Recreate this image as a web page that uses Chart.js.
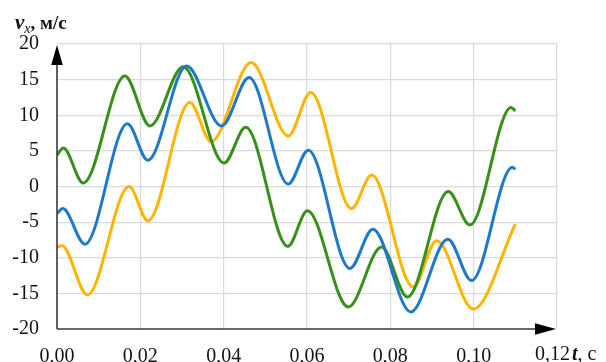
<!DOCTYPE html>
<html>
<head>
<meta charset="utf-8">
<script src="https://cdn.jsdelivr.net/npm/chart.js@4.4.1/dist/chart.umd.min.js"></script>
<style>
  html, body { margin: 0; padding: 0; background: #fff; }
  canvas { display: block; }
</style>
</head>
<body>
<canvas id="c" width="606" height="362"></canvas>
<script>
// Velocity v_x(t) for three signals, sampled at their turning points (t in s, v in m/s)
const tBlue   = [0, 0.0014, 0.0067, 0.0169, 0.0218, 0.0311, 0.0395, 0.0461, 0.0555, 0.0603, 0.0703, 0.0758, 0.0849, 0.0938, 0.0995, 0.1093, 0.1100];
const vBlue   = [-3.8, -3.1, -8.1, 8.8, 3.7, 16.9, 8.5, 15.3, 0.35, 5.1, -11.5, -6.0, -17.6, -7.4, -13.2, 2.7, 2.4];

const tGreen  = [0, 0.0015, 0.0063, 0.0163, 0.0223, 0.0303, 0.0401, 0.0453, 0.0554, 0.0601, 0.0699, 0.0779, 0.0841, 0.0939, 0.0991, 0.1090, 0.1100];
const vGreen  = [4.4, 5.4, 0.5, 15.5, 8.5, 16.8, 3.3, 8.3, -8.4, -3.4, -16.9, -8.5, -15.5, -0.7, -5.4, 11.1, 10.6];

const tOrange = [0, 0.0012, 0.0073, 0.0173, 0.0218, 0.0319, 0.0370, 0.0466, 0.0555, 0.0609, 0.0707, 0.0755, 0.0855, 0.0911, 0.0999, 0.1100];
const vOrange = [-8.5, -8.3, -15.2, 0.0, -4.8, 11.8, 6.3, 17.4, 7.1, 13.2, -3.1, 1.6, -14.1, -7.6, -17.2, -5.3];

// Axis ranges and tick steps
const xMin = 0, xMax = 0.12, xStep = 0.02;
const yMin = -20, yMax = 20, yStep = 5;

const SERIF = "'Liberation Serif', 'Times New Roman', serif";
const GRID = '#d9d9d9';

const fmtX = v => v.toFixed(2).replace('.', ',');

function points(ts, vs) {
  return ts.map((t, i) => ({ x: t, y: vs[i] }));
}

function series(ts, vs, color) {
  return {
    data: points(ts, vs),
    borderColor: color,
    borderWidth: 3,
    pointRadius: 0,
    fill: false,
    cubicInterpolationMode: 'monotone'
  };
}

// Axis lines with arrowheads plus the axis captions
const axesArrows = {
  id: 'axesArrows',
  afterDatasetsDraw(chart) {
    const { ctx, scales: { x, y } } = chart;
    const x0 = x.getPixelForValue(xMin);
    const xEnd = x.getPixelForValue(xMax);
    const y0 = y.getPixelForValue(yMin);
    const yTop = y.getPixelForValue(yMax);
    ctx.save();
    ctx.strokeStyle = '#3a3a3a';
    ctx.lineWidth = 1.6;
    ctx.beginPath();
    ctx.moveTo(x0, y0);
    ctx.lineTo(xEnd - 20, y0);
    ctx.moveTo(x0, y0);
    ctx.lineTo(x0, yTop + 20);
    ctx.stroke();

    ctx.fillStyle = '#000';
    ctx.beginPath();
    ctx.moveTo(x0, yTop + 1);
    ctx.lineTo(x0 - 5.8, yTop + 21);
    ctx.lineTo(x0 + 5.8, yTop + 21);
    ctx.closePath();
    ctx.fill();

    ctx.beginPath();
    ctx.moveTo(xEnd - 1, y0);
    ctx.lineTo(xEnd - 22, y0 - 5.7);
    ctx.lineTo(xEnd - 22, y0 + 5.7);
    ctx.closePath();
    ctx.fill();

    // y caption: v_x, м/с
    ctx.fillStyle = '#111';
    ctx.textBaseline = 'alphabetic';
    ctx.textAlign = 'left';
    let cx = 15, base = 29;
    ctx.font = 'italic bold 21px ' + SERIF;
    ctx.fillText('v', cx, base);
    cx += ctx.measureText('v').width;
    ctx.font = 'italic 14px ' + SERIF;
    ctx.fillText('x', cx, base + 4);
    cx += ctx.measureText('x').width;
    ctx.font = 'bold 19px ' + SERIF;
    ctx.fillText(', м/с', cx, base);

    // last x tick value followed by the caption: 0,12 t, с
    base = 360;
    ctx.font = '20px ' + SERIF;
    ctx.textAlign = 'right';
    ctx.fillText(fmtX(xMax), 570, base);
    ctx.textAlign = 'left';
    cx = 572;
    ctx.font = 'italic bold 20px ' + SERIF;
    ctx.fillText('t', cx, base);
    cx += ctx.measureText('t').width;
    ctx.font = '20px ' + SERIF;
    ctx.fillText(', с', cx, base);
    ctx.restore();
  }
};

new Chart(document.getElementById('c'), {
  type: 'line',
  data: {
    datasets: [
      series(tBlue, vBlue, '#1f78c8'),
      series(tGreen, vGreen, '#36901a'),
      series(tOrange, vOrange, '#ffb400')
    ]
  },
  options: {
    responsive: false,
    animation: false,
    devicePixelRatio: 1,
    layout: { padding: { top: 44, right: 49, left: 0, bottom: 0 } },
    plugins: { legend: { display: false }, tooltip: { enabled: false } },
    scales: {
      x: {
        type: 'linear',
        min: xMin, max: xMax,
        afterFit(scale) { scale.height = 33; },
        border: { display: false },
        grid: {
          color: ctx => (ctx.tick && Math.abs(ctx.tick.value - xMin) < 1e-9) ? 'rgba(0,0,0,0)' : GRID,
          lineWidth: 1.2,
          drawTicks: false
        },
        ticks: {
          stepSize: xStep,
          padding: 16,
          color: '#111',
          font: { family: SERIF, size: 20 },
          maxRotation: 0,
          // the last value is drawn together with the axis caption
          callback: v => (Math.abs(v - xMax) < 1e-9 ? '' : fmtX(v))
        }
      },
      y: {
        min: yMin, max: yMax,
        afterFit(scale) { scale.width = 57; },
        border: { display: false },
        grid: {
          color: ctx => (ctx.tick && ctx.tick.value === yMin) ? 'rgba(0,0,0,0)' : GRID,
          lineWidth: 1.2,
          drawTicks: false
        },
        ticks: {
          stepSize: yStep,
          padding: 18,
          color: '#111',
          font: { family: SERIF, size: 20 },
          callback: v => String(v)
        }
      }
    }
  },
  plugins: [axesArrows]
});
</script>
</body>
</html>
